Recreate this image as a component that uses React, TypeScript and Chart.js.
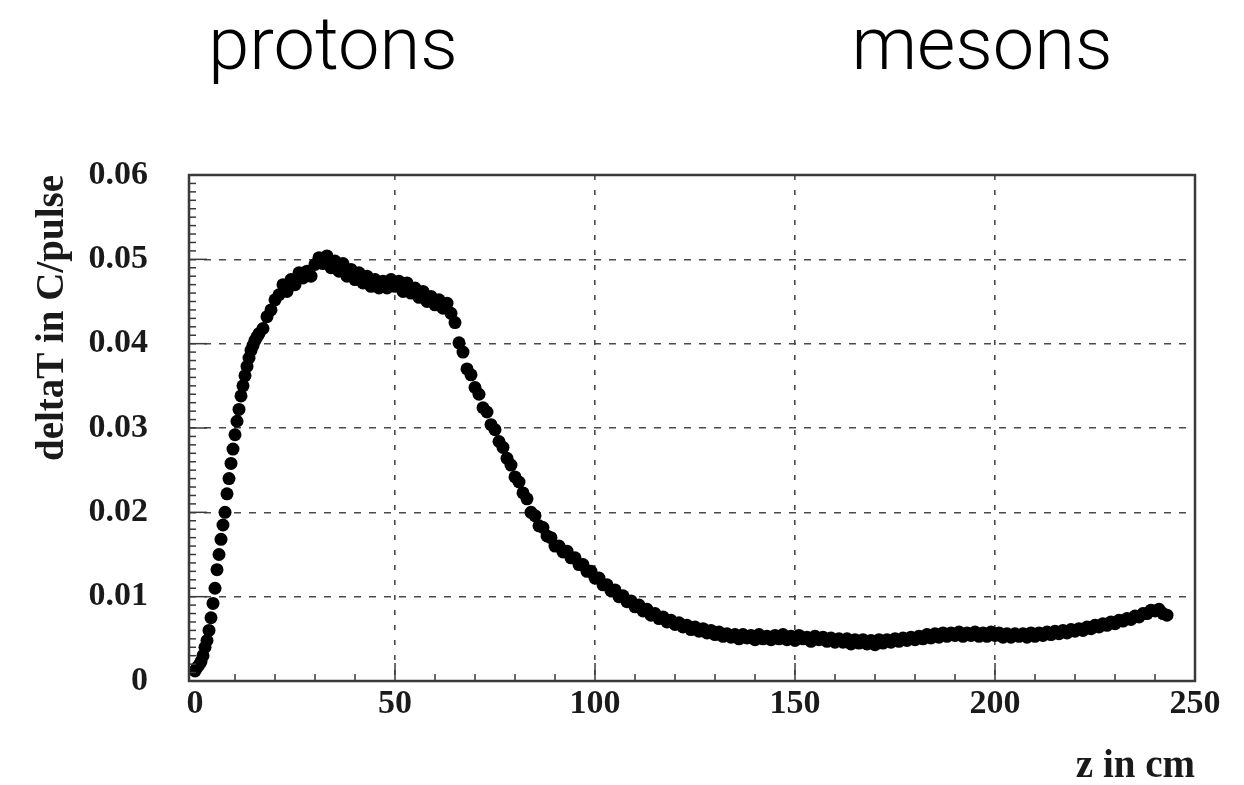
import React, { useEffect, useRef } from "react";
import { Chart, registerables } from "chart.js";

Chart.register(...registerables);

// z position along the beam (cm)
const zCm = [
  0, 0.5, 1, 1.5, 2, 2.5, 3, 3.5, 4, 4.5, 5, 5.5, 6, 6.5, 7, 7.5, 8, 8.5, 9, 9.5,
  10, 10.5, 11, 11.5, 12, 12.5, 13, 13.5, 14, 14.5, 15, 15.5, 16,
  17, 18, 19, 20, 21, 22, 23, 24, 25, 26, 27, 28, 29, 30, 31, 32, 33, 34, 35, 36,
  37, 38, 39, 40, 41, 42, 43, 44, 45, 46, 47, 48, 49, 50, 51, 52, 53, 54, 55, 56,
  57, 58, 59, 60, 61, 62, 63, 64,
  65, 66, 67, 68, 69, 70, 71, 72, 73, 74, 75, 76, 77, 78, 79, 80, 81, 82, 83, 84,
  85, 86, 87, 88, 89, 90, 91, 92, 93, 94, 95, 96, 97, 98, 99, 100,
  101, 102, 103, 104, 105, 106, 107, 108, 109, 110, 111, 112, 113, 114, 115, 116,
  117, 118, 119, 120, 121, 122, 123, 124, 125, 126, 127, 128, 129, 130, 131, 132,
  133, 134, 135,
  136, 137, 138, 139, 140, 141, 142, 143, 144, 145, 146, 147, 148, 149, 150, 151,
  152, 153, 154, 155, 156, 157, 158, 159, 160, 161, 162, 163, 164, 165, 166, 167,
  168, 169, 170, 171, 172, 173, 174, 175,
  176, 177, 178, 179, 180, 181, 182, 183, 184, 185, 186, 187, 188, 189, 190, 191,
  192, 193, 194, 195, 196, 197, 198, 199, 200, 201, 202, 203, 204, 205, 206, 207,
  208, 209, 210, 211, 212, 213, 214, 215,
  216, 217, 218, 219, 220, 221, 222, 223, 224, 225, 226, 227, 228, 229, 230, 231,
  232, 233, 234, 235, 236, 237, 238, 239, 240, 241, 242, 243,
];

// deltaT in C/pulse
const deltaT = [
  0.0012, 0.0016, 0.0019, 0.0023, 0.003, 0.004, 0.0048, 0.006, 0.0075, 0.0092,
  0.011, 0.0132, 0.015, 0.0168, 0.0185, 0.02, 0.0222, 0.024, 0.0258, 0.0275,
  0.0292, 0.0308, 0.0322, 0.0338, 0.035, 0.0362, 0.0373, 0.0383, 0.0392, 0.0398,
  0.0404, 0.0408, 0.0412,
  0.0418, 0.0432, 0.044, 0.0452, 0.0458, 0.047, 0.0462, 0.0476, 0.047, 0.0484,
  0.0478, 0.0486, 0.048, 0.0494, 0.0502, 0.0495, 0.0504, 0.049, 0.0498, 0.0486,
  0.0495, 0.048, 0.0488, 0.0476, 0.0484, 0.0472, 0.048, 0.0468, 0.0476, 0.0466,
  0.0474, 0.0466, 0.0476, 0.0468, 0.0474, 0.0462, 0.0472, 0.046, 0.0466, 0.0455,
  0.0462, 0.045, 0.0456, 0.0446, 0.0452, 0.0442, 0.0448, 0.0436,
  0.0425, 0.0401, 0.039, 0.037, 0.0363, 0.0348, 0.034, 0.0324, 0.0319, 0.0304,
  0.0298, 0.0284, 0.0277, 0.0264, 0.0256, 0.0242, 0.0236, 0.0223, 0.0216, 0.02,
  0.0196, 0.0184, 0.0182, 0.0172, 0.017, 0.016, 0.016, 0.0153, 0.0154, 0.0146,
  0.0146, 0.0138, 0.0138, 0.013, 0.013, 0.0122,
  0.0122, 0.0114, 0.0114, 0.0107, 0.0108, 0.01, 0.0101, 0.0094, 0.0095, 0.0088,
  0.009, 0.0083, 0.0085, 0.0078, 0.008, 0.0074, 0.0076, 0.007, 0.0072, 0.0067,
  0.0069, 0.0064, 0.0066, 0.0061, 0.0064, 0.0059, 0.0062, 0.0057, 0.006, 0.0055,
  0.0058, 0.0053, 0.0056, 0.0052, 0.0055,
  0.005, 0.0055, 0.0051, 0.0054, 0.0049, 0.0055, 0.005, 0.0053, 0.0049, 0.0054,
  0.005, 0.0055, 0.0049, 0.0053, 0.0048, 0.0054, 0.005, 0.0052, 0.0047, 0.0053,
  0.0049, 0.0052, 0.0047, 0.0051, 0.0046, 0.005, 0.0046, 0.005, 0.0044, 0.0049,
  0.0045, 0.0049, 0.0044, 0.0048, 0.0043, 0.0049, 0.0045, 0.0049, 0.0046, 0.005,
  0.0047, 0.0051, 0.0048, 0.0052, 0.0049, 0.0053, 0.005, 0.0055, 0.0051, 0.0056,
  0.0052, 0.0057, 0.0053, 0.0057, 0.0054, 0.0058, 0.0053, 0.0057, 0.0054, 0.0058,
  0.0053, 0.0057, 0.0053, 0.0058, 0.0054, 0.0057, 0.0052, 0.0056, 0.0052, 0.0056,
  0.0053, 0.0056, 0.0052, 0.0057, 0.0053, 0.0057, 0.0054, 0.0058, 0.0055, 0.0059,
  0.0056, 0.006, 0.0057, 0.0061, 0.0059, 0.0062, 0.006, 0.0064, 0.0062, 0.0066,
  0.0064, 0.0068, 0.0066, 0.007, 0.0068, 0.0072, 0.0071, 0.0074, 0.0073, 0.0077,
  0.0076, 0.008, 0.008, 0.0084, 0.0083, 0.0085, 0.008, 0.0078,
];

const xTickValues = [0, 50, 100, 150, 200, 250];
const xTickLabels = ["0", "50", "100", "150", "200", "250"];
const yTickValues = [0, 0.01, 0.02, 0.03, 0.04, 0.05, 0.06];
const yTickLabels = ["0", "0.01", "0.02", "0.03", "0.04", "0.05", "0.06"];
const headings = ["protons", "mesons"];
const xTitle = "z in cm";
const yTitle = "deltaT in C/pulse";

const SERIF = "'Liberation Serif', 'Times New Roman', 'DejaVu Serif', serif";
const AXIS_COLOR = "#3a3a3a";
const GRID_COLOR = "#4a4a4a";

const framePlugin = {
  id: "rootFrame",
  afterDraw(chart: any) {
    const { ctx, chartArea: a, scales } = chart;
    const xs = scales.x;
    const ys = scales.y;
    ctx.save();
    ctx.strokeStyle = AXIS_COLOR;
    ctx.lineWidth = 1.5;
    // x-axis ticks (inside frame, bottom)
    for (let v = 10; v < 250; v += 10) {
      const px = xs.getPixelForValue(v);
      const len = v % 50 === 0 ? 18 : 7;
      ctx.beginPath();
      ctx.moveTo(px, a.bottom);
      ctx.lineTo(px, a.bottom - len);
      ctx.stroke();
    }
    // y-axis ticks (inside frame, left)
    for (let i = 1; i < 60; i++) {
      const py = ys.getPixelForValue(i / 1000);
      const len = i % 10 === 0 ? 18 : 7;
      ctx.beginPath();
      ctx.moveTo(a.left, py);
      ctx.lineTo(a.left + len, py);
      ctx.stroke();
    }
    ctx.lineWidth = 2.5;
    ctx.strokeRect(a.left, a.top, a.right - a.left, a.bottom - a.top);
    ctx.restore();
  },
};

export default function App() {
  const canvasRef = useRef<HTMLCanvasElement | null>(null);

  useEffect(() => {
    const canvas = canvasRef.current;
    if (!canvas) return;
    const points = zCm.map((z, i) => ({ x: z, y: deltaT[i] }));
    const chart = new Chart(canvas, {
      type: "scatter",
      data: {
        datasets: [
          {
            data: points,
            pointRadius: 6.5,
            pointHoverRadius: 6.5,
            pointBackgroundColor: "#000",
            pointBorderColor: "#000",
            pointBorderWidth: 0,
            showLine: false,
          },
        ],
      },
      options: {
        responsive: false,
        animation: false,
        events: [],
        layout: { padding: { top: 175, right: 49, bottom: 0, left: 0 } },
        plugins: {
          legend: { display: false },
          tooltip: { enabled: false },
          title: { display: false },
        },
        scales: {
          x: {
            type: "linear",
            min: -1.5,
            max: 250,
            afterBuildTicks: (s: any) => {
              s.ticks = xTickValues.map((v) => ({ value: v }));
            },
            afterFit: (s: any) => {
              s.height = 104;
            },
            ticks: {
              autoSkip: false,
              maxRotation: 0,
              padding: 3,
              color: "#1a1a1a",
              font: { family: SERIF, weight: "bold", size: 34 },
              callback: (v: any) => xTickLabels[xTickValues.indexOf(v)] ?? "",
            },
            grid: {
              drawTicks: false,
              lineWidth: 1.6,
              color: (c: any) =>
                c.tick && c.tick.value > 0 && c.tick.value < 250 ? GRID_COLOR : "rgba(0,0,0,0)",
            },
            border: { display: false, dash: [5, 10] },
            title: {
              display: true,
              text: xTitle,
              align: "end",
              color: "#1a1a1a",
              font: { family: SERIF, weight: "bold", size: 39 },
              padding: { top: 0, bottom: -5 },
            },
          },
          y: {
            type: "linear",
            min: 0,
            max: 0.06,
            afterBuildTicks: (s: any) => {
              s.ticks = yTickValues.map((v) => ({ value: v }));
            },
            afterFit: (s: any) => {
              s.width = 189;
            },
            ticks: {
              autoSkip: false,
              padding: 41,
              color: "#1a1a1a",
              font: { family: SERIF, weight: "bold", size: 34 },
              callback: (v: any) => yTickLabels[yTickValues.indexOf(v)] ?? "",
            },
            grid: {
              drawTicks: false,
              lineWidth: 1.6,
              color: (c: any) =>
                c.tick && c.tick.value > 0 && c.tick.value < 0.06 ? GRID_COLOR : "rgba(0,0,0,0)",
            },
            border: { display: false, dash: [7, 8] },
            title: {
              display: true,
              text: yTitle,
              align: "end",
              color: "#1a1a1a",
              font: { family: SERIF, weight: "bold", size: 39 },
              padding: { top: 30, bottom: 0 },
            },
          },
        },
      },
      plugins: [framePlugin],
    } as any);
    return () => chart.destroy();
  }, []);

  const headingStyle: React.CSSProperties = {
    position: "absolute",
    top: 7,
    width: 400,
    textAlign: "center",
    fontFamily: "Roboto, 'Open Sans', 'Liberation Sans', sans-serif",
    fontWeight: 300,
    fontSize: 74,
    lineHeight: "74px",
    color: "#000",
    whiteSpace: "nowrap",
  };

  return (
    <div
      style={{
        position: "absolute",
        left: 0,
        top: 0,
        width: 1244,
        height: 785,
        background: "#fff",
        overflow: "hidden",
      }}
    >
      <canvas
        ref={canvasRef}
        width={1244}
        height={785}
        style={{ position: "absolute", left: 0, top: 0, width: 1244, height: 785 }}
      />
      <div style={{ ...headingStyle, left: 333 - 200 }}>{headings[0]}</div>
      <div style={{ ...headingStyle, left: 982 - 200 }}>{headings[1]}</div>
    </div>
  );
}
